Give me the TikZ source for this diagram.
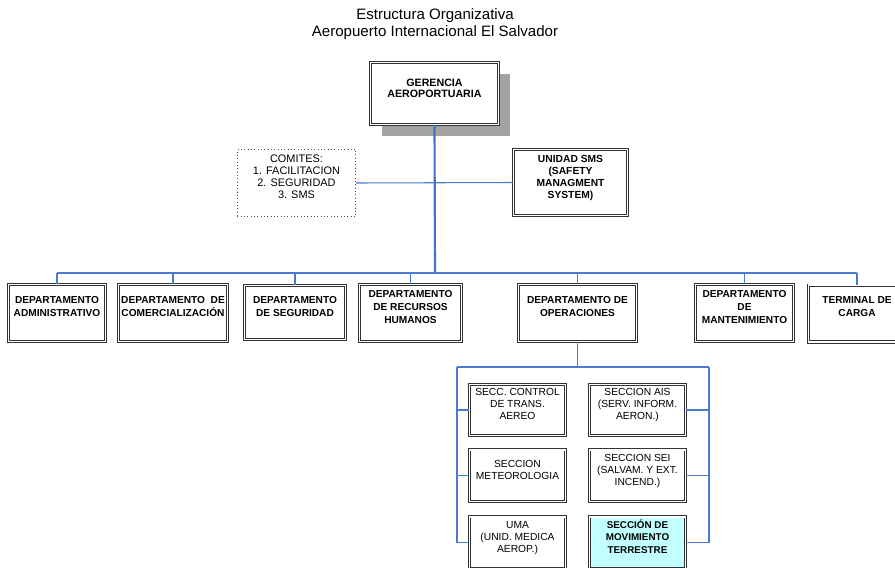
\documentclass[tikz,border=0pt]{standalone}
\usepackage{fontspec}
\setmainfont{Liberation Sans}
\usetikzlibrary{shadows}

\definecolor{linkblue}{HTML}{4A7BD0}
\definecolor{trunkblue}{HTML}{4472C4}
\definecolor{shadowgray}{HTML}{A3A3A3}
\definecolor{pastelcyan}{HTML}{C2FFFF}

\begin{document}
\begin{tikzpicture}[
		x=0.75pt, y=-0.75pt,
		every node/.style={align=center, inner sep=0pt},
		unitbox/.style={rectangle, draw=black!80, double=white, double distance=1.1pt, line width=0.65pt, fill=white},
		headtext/.style={font=\fontsize{8}{8.4}\selectfont\bfseries},
		depttext/.style={font=\fontsize{7.6}{9.75}\selectfont\bfseries},
		secttext/.style={font=\fontsize{7.7}{9}\selectfont},
		deptbox/.style={unitbox, depttext, minimum height=42.6pt},
		sectbox/.style={unitbox, secttext, minimum width=72pt, minimum height=38.6pt},
		link/.style={draw=linkblue, line width=0.8pt},
		trunk/.style={draw=trunkblue, line width=1.6pt}
		]
		\path[use as bounding box, clip] (0,0) rectangle (895,567);
		
		% Title
		\node[font=\fontsize{11.3}{12.75}\selectfont] (title) at (435,24.5) {Estructura Organizativa\\Aeropuerto Internacional El Salvador};
		
		% Top management and staff units
		\node[unitbox, headtext, minimum width=95.9pt, minimum height=46.4pt,
		drop shadow={shadow xshift=8.5pt, shadow yshift=-8.5pt, fill=shadowgray, opacity=1}]
		(ger) at (434.5,93.5) {GERENCIA\\AEROPORTUARIA\\\mbox{}};
		\node[draw=black!70, dotted, line width=0.5pt, secttext, font=\fontsize{8.2}{9}\selectfont, minimum width=88.8pt, minimum height=50.6pt]
		(comites) at (296.5,183) {COMITES:\\1. FACILITACION\\2. SEGURIDAD\\3. SMS\\\mbox{}};
		\node[unitbox, depttext, font=\fontsize{7.7}{9}\selectfont\bfseries, minimum width=85.4pt, minimum height=49.4pt]
		(sms) at (570.5,182.5) {UNIDAD SMS\\(SAFETY\\MANAGMENT\\SYSTEM)\\\mbox{}};
		
		% Departments
		\node[deptbox, minimum width=72.6pt] (adm) at (57,313) {DEPARTAMENTO\\ADMINISTRATIVO\\\mbox{}};
		\node[deptbox, minimum width=81.6pt] (comer) at (173,313) {DEPARTAMENTO~ DE\\COMERCIALIZACIÓN\\\mbox{}};
		\node[deptbox, minimum width=75.6pt, minimum height=40.4pt] (seg) at (295,312.5) {DEPARTAMENTO\\DE SEGURIDAD\\\mbox{}};
		\node[deptbox, minimum width=76.4pt] (rrhh) at (410.5,313) {DEPARTAMENTO\\DE RECURSOS\\HUMANOS\\\mbox{}};
		\node[deptbox, minimum width=88.4pt] (ope) at (577.5,313) {DEPARTAMENTO DE\\OPERACIONES\\\mbox{}};
		\node[deptbox, minimum width=73.4pt] (mant) at (744.5,313) {DEPARTAMENTO\\DE\\MANTENIMIENTO\\\mbox{}};
		\node[deptbox, minimum width=72.6pt] (carga) at (857,313.5) {TERMINAL DE\\CARGA\\\mbox{}};
		
		% Sections of operations
		\node[sectbox, minimum height=38.1pt] (ctrl) at (517.5,410) {SECC. CONTROL\\DE TRANS.\\AEREO\\\mbox{}};
		\node[sectbox] (meteo) at (517.5,475.5) {SECCION\\METEOROLOGIA\\\mbox{}};
		\node[sectbox] (uma) at (517.5,542.5) {UMA\\(UNID. MEDICA\\AEROP.)\\\mbox{}};
		\node[sectbox, minimum height=38.1pt] (ais) at (637.5,410) {SECCION AIS\\(SERV. INFORM.\\AERON.)\\\mbox{}};
		\node[sectbox] (sei) at (637.5,475.5) {SECCION SEI\\(SALVAM. Y EXT.\\INCEND.)\\\mbox{}};
		\node[sectbox, fill=pastelcyan, font=\fontsize{7.4}{9.2}\selectfont\bfseries] (mov) at (637.5,542.5) {SECCIÓN DE\\MOVIMIENTO\\TERRESTRE\\\mbox{}};
		
		% Bus points
		\coordinate (bus) at (435,273);
		\coordinate (railL) at (457,367);
		\coordinate (railR) at (709,367);
		
		% Connectors
		\draw[link] (comites.east) -- (sms.west);
		\draw[trunk] (ger.south) -- (bus);
		\draw[link] (adm.north |- bus) -- (carga.north |- bus);
		\foreach \dept in {adm, comer, seg, rrhh, ope, mant, carga}
		\draw[link] (\dept.north |- bus) -- (\dept.north);
		
		\draw[link] (ope.south) -- (ope.south |- railL);
		\draw[link] (railL) -- (railR);
		\draw[link] (railL) |- (uma.west);
		\draw[link] (railR) |- (mov.east);
		\foreach \sect in {ctrl, meteo}
		\draw[link] (railL |- \sect.west) -- (\sect.west);
		\foreach \sect in {ais, sei}
		\draw[link] (railR |- \sect.east) -- (\sect.east);
		
	\end{tikzpicture}
\end{document}
